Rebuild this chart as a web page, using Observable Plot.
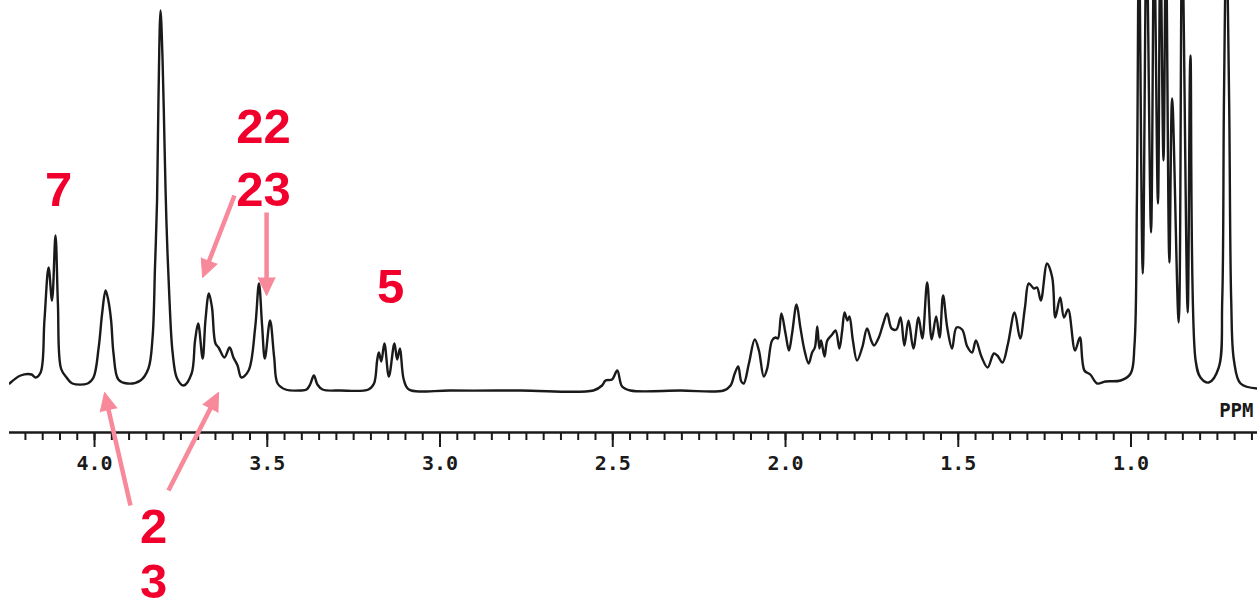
<!DOCTYPE html>
<html><head><meta charset="utf-8">
<script src="https://cdn.jsdelivr.net/npm/d3@7"></script>
<script src="https://cdn.jsdelivr.net/npm/@observablehq/plot@0.6"></script>
<style>html,body{margin:0;padding:0;background:#fff;} #chart{width:1257px;height:610px;overflow:hidden;}</style>
</head><body><div id="chart"></div>
<script>
// Spectrum trace: chemical shift (ppm) and signal intensity (arbitrary units, baseline ~0)
const ppm = [
4.246, 4.214, 4.182, 4.171, 4.156, 4.145, 4.133, 4.123, 4.113, 4.106,
4.097, 4.081, 4.064, 4.020, 4.003, 3.988, 3.978, 3.968, 3.960, 3.952,
3.945, 3.931, 3.905, 3.867, 3.844, 3.832, 3.825, 3.819, 3.815, 3.809,
3.803, 3.797, 3.792, 3.783, 3.774, 3.761, 3.742, 3.719, 3.709, 3.700,
3.687, 3.679, 3.669, 3.660, 3.650, 3.641, 3.624, 3.609, 3.598, 3.586,
3.575, 3.554, 3.535, 3.524, 3.515, 3.507, 3.492, 3.480, 3.470, 3.447,
3.404, 3.386, 3.376, 3.365, 3.355, 3.340, 3.288, 3.207, 3.191, 3.182,
3.177, 3.170, 3.161, 3.148, 3.132, 3.124, 3.116, 3.105, 3.090, 2.970,
2.767, 2.556, 2.531, 2.521, 2.502, 2.487, 2.473, 2.449, 2.304, 2.179,
2.159, 2.147, 2.137, 2.128, 2.121, 2.106, 2.089, 2.077, 2.063, 2.053,
2.039, 2.029, 2.022, 2.012, 2.000, 1.990, 1.981, 1.968, 1.957, 1.945,
1.933, 1.923, 1.915, 1.908, 1.902, 1.897, 1.887, 1.879, 1.865, 1.855,
1.844, 1.836, 1.829, 1.821, 1.815, 1.805, 1.793, 1.778, 1.764, 1.752,
1.744, 1.730, 1.717, 1.706, 1.693, 1.679, 1.667, 1.656, 1.644, 1.630,
1.615, 1.604, 1.590, 1.577, 1.564, 1.554, 1.544, 1.532, 1.518, 1.505,
1.489, 1.474, 1.460, 1.449, 1.433, 1.415, 1.397, 1.387, 1.372, 1.356,
1.337, 1.321, 1.307, 1.296, 1.281, 1.272, 1.261, 1.243, 1.228, 1.219,
1.205, 1.194, 1.182, 1.162, 1.148, 1.135, 1.118, 1.098, 1.074, 1.030,
1.001, 0.990, 0.983, 0.977, 0.966, 0.955, 0.942, 0.933, 0.922, 0.915,
0.906, 0.899, 0.889, 0.881, 0.862, 0.852, 0.836, 0.828, 0.813, 0.799,
0.775, 0.746, 0.736, 0.731, 0.724, 0.716, 0.710, 0.702, 0.683, 0.634
];
const intensity = [
7, 15, 16, 13, 18, 70, 123, 90, 155, 87,
22, 13, 7, 7, 13, 43, 77, 100, 90, 70,
37, 11, 7, 10, 22, 53, 123, 190, 290, 380,
330, 240, 170, 90, 38, 12, 5, 17, 50, 67,
32, 70, 97, 83, 47, 43, 33, 43, 33, 25,
13, 20, 63, 107, 65, 32, 70, 33, 7, 1,
0, 1, 6, 15, 6, 1, 0, 1, 7, 30,
38, 29, 47, 14, 47, 31, 42, 11, 1, 0,
0, 0, 5, 10, 11, 20, 4, 0, 0, 0,
5, 17, 24, 9, 7, 27, 51, 40, 14, 22,
50, 53, 52, 77, 57, 40, 57, 86, 63, 40,
27, 38, 43, 64, 42, 50, 34, 50, 56, 60,
42, 60, 78, 70, 74, 50, 30, 43, 62, 50,
45, 53, 67, 77, 62, 61, 73, 45, 70, 42,
73, 52, 108, 51, 74, 53, 95, 63, 42, 63,
61, 44, 38, 50, 34, 23, 37, 35, 28, 47,
78, 52, 83, 107, 102, 103, 90, 127, 113, 73,
93, 73, 81, 40, 53, 20, 16, 7, 9, 10,
17, 45, 190, 450, 117, 450, 158, 450, 187, 450,
230, 450, 128, 292, 68, 450, 78, 335, 30, 13,
8, 23, 90, 290, 450, 290, 90, 30, 7, 2
];

// Axis ticks
const majorTicks = [4.0, 3.5, 3.0, 2.5, 2.0, 1.5, 1.0];
const majorTickLabels = ["4.0", "3.5", "3.0", "2.5", "2.0", "1.5", "1.0"];
const minorTicks = d3.range(65, 425, 5).map(v => v / 100);
const axisUnit = "PPM";

// Peak annotations (assignment numbers)
const labelText = ["7", "22", "23", "5", "2", "3"];
const labelPpm = [4.104, 3.511, 3.511, 3.143, 3.829, 3.829];
const labelInt = [200, 263, 200, 103, -137, -192];

// Annotation arrows (from -> to)
const arrowFromPpm = [3.595, 3.502, 3.896, 3.786];
const arrowFromInt = [195, 178, -115, -100];
const arrowToPpm = [3.687, 3.502, 3.971, 3.641];
const arrowToInt = [113, 95, -2, -2];

// ---- build ----
const W = 1257, H = 610, mL = 9, mB = 178;
const xDomain = [4.2461, 0.6339];
const yDomain = [-42, 390];
const RED = "#f2002d", PINK = "#f7899a", INK = "#1a1a1a";

const spectrum = ppm.map((p, i) => ({ppm: p, int: intensity[i]}));
const labels = labelText.map((t, i) => ({t, x: labelPpm[i], y: labelInt[i]}));

const sx = Plot.scale({x: {domain: xDomain, range: [mL, W]}});
const sy = Plot.scale({y: {domain: yDomain, range: [H - mB, 0]}});
const HEAD = 18;
const arrows = arrowFromPpm.map((_, i) => {
  const px1 = sx.apply(arrowFromPpm[i]), py1 = sy.apply(arrowFromInt[i]);
  const px2 = sx.apply(arrowToPpm[i]), py2 = sy.apply(arrowToInt[i]);
  const L = Math.hypot(px2 - px1, py2 - py1);
  const ux = (px2 - px1) / L, uy = (py2 - py1) / L;
  return {
    x1: arrowFromPpm[i], y1: arrowFromInt[i],
    x2: arrowToPpm[i], y2: arrowToInt[i],
    xs: sx.invert(px2 - ux * (HEAD - 3)), ys: sy.invert(py2 - uy * (HEAD - 3)),
    rotate: Math.atan2(ux, -uy) * 180 / Math.PI
  };
});

const chart = Plot.plot({
  width: W, height: H,
  marginLeft: mL, marginRight: 0, marginTop: 0, marginBottom: mB,
  style: {background: "transparent", overflow: "visible"},
  x: {domain: xDomain, axis: null},
  y: {domain: yDomain, axis: null},
  marks: [
    Plot.line(spectrum, {x: "ppm", y: "int", stroke: INK, strokeWidth: 2.4, curve: "catmull-rom", clip: true}),
    Plot.ruleY([yDomain[0]], {stroke: INK, strokeWidth: 2.5}),
    Plot.axisX(minorTicks, {anchor: "bottom", tickSize: 8, tickFormat: () => "", strokeWidth: 2, stroke: INK, label: null}),
    Plot.axisX(majorTicks, {anchor: "bottom", tickSize: 15, tickPadding: 8,
      tickFormat: d => majorTickLabels[majorTicks.indexOf(d)],
      fontSize: 20, fontWeight: "bold", fontFamily: "DejaVu Sans Mono", strokeWidth: 2, color: INK, label: null}),
    Plot.text([axisUnit], {frameAnchor: "bottom-right", textAnchor: "end", dx: -4, dy: -16,
      fontSize: 19, fontWeight: "bold", fontFamily: "DejaVu Sans Mono", fill: INK}),
    Plot.link(arrows, {x1: "x1", y1: "y1", x2: "xs", y2: "ys", stroke: PINK, strokeWidth: 4.5}),
    Plot.vector(arrows, {x: "x2", y: "y2", rotate: "rotate", length: HEAD, r: 8.5,
      shape: "spike", anchor: "end", fill: PINK, stroke: PINK, strokeWidth: 1}),
    Plot.text(labels, {x: "x", y: "y", text: "t", fill: RED, fontSize: 49, fontWeight: "bold",
      fontFamily: "Liberation Sans, Arial, sans-serif"})
  ]
});
document.getElementById("chart").appendChild(chart);
</script>
</body></html>
